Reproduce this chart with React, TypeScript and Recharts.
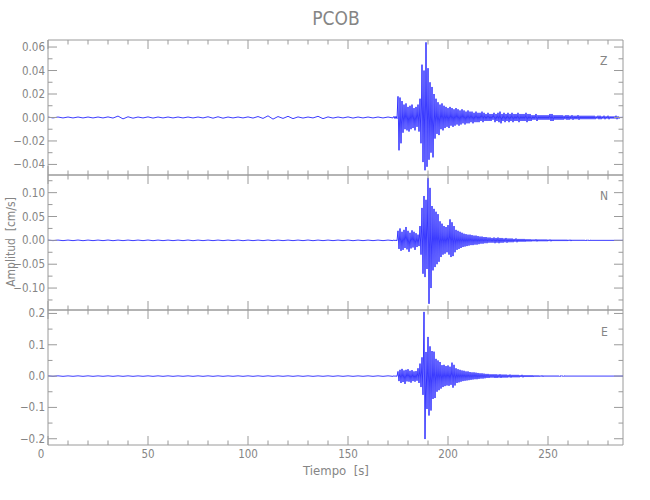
import React from "react";
import { LineChart, Line, XAxis, YAxis, ReferenceLine } from "recharts";

// sample times (s)
const quietTime = [0, 5, 10, 15, 20, 25, 30, 35, 40, 45, 50, 55, 60, 65, 70, 75, 80, 85, 90, 95, 100, 105, 110, 115, 120, 125, 130, 135, 140, 145, 150, 155, 160, 165, 170];
const eventTime = [173, 174, 175, 176, 177, 178, 179, 180, 181, 182, 183, 184, 185, 186, 187, 188, 189, 190, 191, 192, 193, 194, 195, 196, 197, 198, 199, 200, 201, 202, 203, 204, 205, 206, 207, 208, 209, 210, 211, 212, 213, 214, 215, 216, 217, 218, 219, 220, 221, 222];
const tailTime = [223, 224, 225, 226, 227, 228, 229, 230, 231, 232, 233, 234, 235, 236, 237, 238, 239, 240, 241, 242, 243, 244, 245, 246, 247, 248, 249, 250, 251, 252, 253, 254, 255, 256, 257, 258, 259, 260, 261, 262, 263, 264, 265, 266, 267, 268, 269, 270, 271, 272, 273, 274, 275, 276, 277, 278, 279, 280, 281, 282, 283, 284, 285, 286, 287];

// Z component (cm/s)
const zQuiet = [0.0004, 0.0004, 0.0004, 0.0004, 0.0004, 0.0004, 0.0005, 0.0012, 0.0006, 0.0004, 0.0005, 0.0004, 0.0004, 0.0004, 0.0004, 0.0004, 0.0006, 0.0006, 0.0004, 0.0004, 0.0005, 0.0008, 0.0014, 0.0008, 0.001, 0.0005, 0.0004, 0.001, 0.0005, 0.0004, 0.0005, 0.0004, 0.0004, 0.0004, 0.0004];
const zUp = [0.001, 0.001, 0.018, 0.017, 0.014, 0.011, 0.012, 0.009, 0.010, 0.011,
  0.008, 0.009, 0.011, 0.016, 0.045, 0.040, 0.064, 0.042, 0.030, 0.026,
  0.020, 0.016, 0.013, 0.011, 0.012, 0.010, 0.009, 0.008, 0.009, 0.008,
  0.007, 0.008, 0.007, 0.006, 0.007, 0.006, 0.005, 0.006, 0.005, 0.005,
  0.004, 0.005, 0.004, 0.004, 0.005, 0.004, 0.003, 0.004, 0.003, 0.003];
const zLo = [-0.001, -0.001, -0.028, -0.022, -0.013, -0.010, -0.011, -0.012, -0.010, -0.009,
  -0.011, -0.008, -0.012, -0.022, -0.038, -0.045, -0.042, -0.036, -0.030, -0.034,
  -0.018, -0.014, -0.015, -0.010, -0.011, -0.009, -0.008, -0.009, -0.007, -0.008,
  -0.007, -0.006, -0.007, -0.006, -0.005, -0.006, -0.005, -0.005, -0.004, -0.005,
  -0.004, -0.004, -0.004, -0.003, -0.004, -0.003, -0.003, -0.003, -0.003, -0.002];
const zTail = [0.004, 0.003, 0.004, 0.005, 0.003, 0.004, 0.003, 0.004, 0.003, 0.004,
  0.003, 0.003, 0.004, 0.003, 0.003, 0.003, 0.004, 0.003, 0.003, 0.002,
  0.002, 0.003, 0.002, 0.002, 0.002, 0.002, 0.002, 0.002, 0.003, 0.003,
  0.002, 0.002, 0.002, 0.002, 0.002, 0.0015, 0.002, 0.002, 0.0015, 0.002,
  0.0015, 0.0015, 0.002, 0.0015, 0.0015, 0.0015, 0.0015, 0.0015, 0.0015, 0.0015,
  0.0015, 0.001, 0.0015, 0.0015, 0.001, 0.0015, 0.001, 0.0015, 0.001, 0.001,
  0.001, 0.0015, 0.001, 0.0005, 0.0005];

// N component
const nQuiet = [0.0006, 0.0006, 0.0006, 0.0007, 0.0006, 0.0006, 0.0007, 0.0006, 0.0006, 0.0006, 0.0007, 0.0006, 0.0006, 0.0006, 0.0007, 0.0006, 0.0006, 0.0006, 0.0006, 0.0007, 0.0006, 0.0006, 0.0007, 0.0006, 0.0006, 0.0006, 0.0007, 0.0006, 0.0006, 0.0006, 0.0007, 0.0006, 0.0006, 0.0006, 0.0006];
const nUp = [0.001, 0.001, 0.020, 0.025, 0.018, 0.022, 0.028, 0.020, 0.016, 0.021,
  0.018, 0.015, 0.012, 0.030, 0.068, 0.093, 0.085, 0.131, 0.110, 0.072,
  0.066, 0.060, 0.055, 0.040, 0.035, 0.030, 0.028, 0.032, 0.044, 0.038,
  0.030, 0.022, 0.020, 0.018, 0.016, 0.014, 0.013, 0.012, 0.012, 0.011,
  0.010, 0.010, 0.009, 0.008, 0.008, 0.007, 0.007, 0.006, 0.006, 0.005];
const nLo = [-0.001, -0.001, -0.018, -0.022, -0.020, -0.016, -0.019, -0.024, -0.017, -0.015,
  -0.020, -0.014, -0.012, -0.030, -0.070, -0.077, -0.060, -0.133, -0.100, -0.063,
  -0.056, -0.050, -0.045, -0.035, -0.030, -0.028, -0.025, -0.030, -0.035, -0.033,
  -0.025, -0.020, -0.018, -0.016, -0.014, -0.013, -0.012, -0.011, -0.010, -0.010,
  -0.009, -0.009, -0.008, -0.007, -0.007, -0.006, -0.006, -0.005, -0.005, -0.005];
const nTail = [0.006, 0.005, 0.006, 0.005, 0.005, 0.004, 0.005, 0.004, 0.004, 0.004,
  0.003, 0.004, 0.003, 0.003, 0.003, 0.003, 0.0025, 0.0025, 0.0025, 0.002,
  0.002, 0.0025, 0.002, 0.002, 0.002, 0.002, 0.002, 0.0015, 0.002, 0.0015,
  0.0015, 0.0015, 0.0015, 0.0015, 0.0015, 0.0015, 0.0015, 0.0012, 0.0015, 0.0012,
  0.0012, 0.0012, 0.0012, 0.0012, 0.0012, 0.0012, 0.001, 0.0012, 0.001, 0.001,
  0.001, 0.001, 0.001, 0.001, 0.001, 0.001, 0.001, 0.001, 0.001, 0.001,
  0.001, 0.001, 0.001, 0.001, 0.001];

// E component
const eQuiet = [0.0008, 0.0008, 0.0007, 0.0008, 0.0008, 0.0007, 0.0008, 0.0008, 0.0008, 0.0007, 0.0008, 0.0008, 0.0008, 0.0007, 0.0008, 0.0008, 0.0008, 0.0008, 0.0007, 0.0008, 0.0008, 0.0008, 0.0008, 0.0007, 0.0008, 0.0008, 0.0008, 0.0007, 0.0008, 0.0008, 0.0008, 0.0007, 0.0008, 0.0008, 0.0008];
const eUp = [0.001, 0.001, 0.015, 0.020, 0.023, 0.018, 0.020, 0.022, 0.017, 0.019,
  0.015, 0.016, 0.025, 0.040, 0.060, 0.205, 0.077, 0.125, 0.095, 0.080,
  0.078, 0.055, 0.050, 0.045, 0.035, 0.036, 0.032, 0.034, 0.030, 0.043,
  0.036, 0.025, 0.022, 0.020, 0.018, 0.017, 0.015, 0.015, 0.013, 0.012,
  0.012, 0.011, 0.010, 0.009, 0.009, 0.008, 0.007, 0.007, 0.006, 0.006];
const eLo = [-0.001, -0.001, -0.016, -0.022, -0.019, -0.025, -0.017, -0.018, -0.021, -0.016,
  -0.018, -0.015, -0.022, -0.035, -0.060, -0.201, -0.105, -0.126, -0.110, -0.073,
  -0.070, -0.050, -0.045, -0.040, -0.035, -0.032, -0.030, -0.031, -0.028, -0.037,
  -0.030, -0.022, -0.020, -0.018, -0.016, -0.015, -0.014, -0.013, -0.012, -0.011,
  -0.010, -0.010, -0.009, -0.008, -0.008, -0.007, -0.006, -0.006, -0.005, -0.005];
const eTail = [0.006, 0.006, 0.005, 0.006, 0.005, 0.005, 0.005, 0.004, 0.005, 0.004,
  0.004, 0.004, 0.004, 0.003, 0.004, 0.003, 0.003, 0.003, 0.003, 0.003,
  0.0025, 0.0025, 0.0025, 0.002, 0.0025, 0.002, 0.002, 0.002, 0.002, 0.002,
  0.002, 0.002, 0.002, 0.0015, 0.002, 0.0015, 0.0015, 0.0015, 0.0015, 0.0015,
  0.0015, 0.0015, 0.0015, 0.0015, 0.0015, 0.0015, 0.0015, 0.0015, 0.0015, 0.0015,
  0.0015, 0.0015, 0.0015, 0.0015, 0.0015, 0.0015, 0.0015, 0.0015, 0.0015, 0.0015,
  0.0015, 0.0015, 0.0015, 0.0015, 0.0015];

// axes
const xTicks = [0, 10, 20, 30, 40, 50, 60, 70, 80, 90, 100, 110, 120, 130, 140, 150, 160, 170, 180, 190, 200, 210, 220, 230, 240, 250, 260, 270, 280];
const xTickLabels = ["0", "", "", "", "", "50", "", "", "", "", "100", "", "", "", "", "150", "", "", "", "", "200", "", "", "", "", "250", "", "", ""];

const zTicks = [-0.04, -0.03, -0.02, -0.01, 0, 0.01, 0.02, 0.03, 0.04, 0.05, 0.06];
const zTickLabels = ["\u22120.04", "", "\u22120.02", "", "0.00", "", "0.02", "", "0.04", "", "0.06"];
const nTicks = [-0.125, -0.1, -0.075, -0.05, -0.025, 0, 0.025, 0.05, 0.075, 0.1, 0.125];
const nTickLabels = ["", "\u22120.10", "", "\u22120.05", "", "0.00", "", "0.05", "", "0.10", ""];
const eTicks = [-0.2, -0.15, -0.1, -0.05, 0, 0.05, 0.1, 0.15, 0.2];
const eTickLabels = ["\u22120.2", "", "\u22120.1", "", "0.0", "", "0.1", "", "0.2"];

const X_MAX = 287.5;
const PLOT_LEFT = 48;
const PLOT_RIGHT = 623;
const AXIS = "#9a9a9a";
const TEXT = "#858585";
const FONT = "'Liberation Sans Narrow', 'DejaVu Sans Condensed', 'Liberation Sans', sans-serif";
const TRACE = "#0a0aff";

type Pt = { t: number; v: number };

function buildTrace(quiet: number[], up: number[], lo: number[], tail: number[]): Pt[] {
  const pts: Pt[] = [];
  quietTime.forEach((t, i) => {
    pts.push({ t, v: quiet[i] });
    pts.push({ t: t + 2.5, v: -quiet[i] });
  });
  eventTime.forEach((t, i) => {
    pts.push({ t, v: up[i] });
    pts.push({ t: t + 0.5, v: lo[i] });
  });
  tailTime.forEach((t, i) => {
    pts.push({ t, v: tail[i] });
    pts.push({ t: t + 0.5, v: -tail[i] });
  });
  return pts;
}

function findLabel(ticks: number[], labels: string[], value: any) {
  const n = Number(value);
  const idx = ticks.findIndex((v) => Math.abs(v - n) < 1e-9);
  return idx >= 0 ? labels[idx] : "";
}

function XTick(props: any) {
  const { x, y, payload, top, showLabel } = props;
  const label = findLabel(xTicks, xTickLabels, payload.value);
  const len = label ? 9 : 4.5;
  return (
    <g>
      <line x1={x} x2={x} y1={y} y2={y - len} stroke={AXIS} />
      <line x1={x} x2={x} y1={top} y2={top + len} stroke={AXIS} />
      {showLabel && label !== "" && (
        <text x={Number(payload.value) === 0 ? x - 7 : x} y={y + 13} textAnchor="middle" fill={TEXT} fontSize={11.5} fontFamily={FONT}>
          {label}
        </text>
      )}
    </g>
  );
}

function YTick(props: any) {
  const { x, y, payload, ticks, labels } = props;
  const label = findLabel(ticks, labels, payload.value);
  const len = label ? 9 : 4.5;
  return (
    <g>
      <line x1={x} x2={x + len} y1={y} y2={y} stroke={AXIS} />
      <line x1={PLOT_RIGHT - len} x2={PLOT_RIGHT} y1={y} y2={y} stroke={AXIS} />
      {label !== "" && (
        <text x={x - 3} y={y} dy="0.35em" textAnchor="end" fill={TEXT} fontSize={11.5} fontFamily={FONT}>
          {label}
        </text>
      )}
    </g>
  );
}

type PanelProps = {
  top: number;
  bottom: number;
  data: Pt[];
  domain: [number, number];
  ticks: number[];
  labels: string[];
  showXLabels: boolean;
};

function Panel({ top, bottom, data, domain, ticks, labels, showXLabels }: PanelProps) {
  const axisH = 20;
  return (
    <div style={{ position: "absolute", left: 0, top: 0 }}>
      <LineChart
        width={650}
        height={500}
        data={data}
        margin={{ top, right: 650 - PLOT_RIGHT, bottom: 500 - bottom - axisH, left: 0 }}
      >
        <XAxis
          type="number"
          dataKey="t"
          domain={[0, X_MAX]}
          ticks={xTicks}
          interval={0}
          allowDataOverflow
          height={axisH}
          tickSize={0}
          tickMargin={0}
          tickLine={false}
          axisLine={{ stroke: AXIS }}
          tick={(p: any) => <XTick {...p} top={top} showLabel={showXLabels} />}
        />
        <YAxis
          type="number"
          domain={domain}
          ticks={ticks}
          interval={0}
          allowDataOverflow
          width={PLOT_LEFT}
          tickSize={0}
          tickMargin={0}
          tickLine={false}
          axisLine={{ stroke: AXIS }}
          tick={(p: any) => <YTick {...p} ticks={ticks} labels={labels} />}
        />
        <ReferenceLine y={domain[1]} stroke={AXIS} />
        <ReferenceLine x={X_MAX} stroke={AXIS} />
        <Line
          type="linear"
          dataKey="v"
          stroke={TRACE}
          strokeWidth={0.8}
          dot={false}
          isAnimationActive={false}
        />
      </LineChart>
    </div>
  );
}

const textStyle: React.CSSProperties = {
  position: "absolute",
  color: TEXT,
  fontFamily: FONT,
  whiteSpace: "nowrap",
  lineHeight: 1,
};

export default function App() {
  const zData = buildTrace(zQuiet, zUp, zLo, zTail);
  const nData = buildTrace(nQuiet, nUp, nLo, nTail);
  const eData = buildTrace(eQuiet, eUp, eLo, eTail);

  return (
    <div style={{ position: "absolute", left: 0, top: 0, width: 650, height: 500, background: "#fff" }}>
      <Panel top={40} bottom={175} data={zData} domain={[-0.049, 0.066]} ticks={zTicks} labels={zTickLabels} showXLabels={false} />
      <Panel top={175} bottom={310} data={nData} domain={[-0.146, 0.137]} ticks={nTicks} labels={nTickLabels} showXLabels={false} />
      <Panel top={310} bottom={445} data={eData} domain={[-0.22, 0.211]} ticks={eTicks} labels={eTickLabels} showXLabels={true} />

      <div style={{ ...textStyle, left: 236, width: 200, textAlign: "center", top: 9, fontSize: 19 }}>PCOB</div>
      <div style={{ ...textStyle, left: 600, top: 55, fontSize: 12 }}>Z</div>
      <div style={{ ...textStyle, left: 600, top: 190, fontSize: 12 }}>N</div>
      <div style={{ ...textStyle, left: 601, top: 326, fontSize: 12 }}>E</div>
      <div style={{ ...textStyle, left: 236, width: 200, textAlign: "center", top: 464, fontSize: 13 }}>Tiempo&nbsp; [s]</div>
      <div
        style={{
          ...textStyle,
          left: 11 - 60,
          width: 120,
          top: 242 - 6,
          textAlign: "center",
          fontSize: 12,
          transform: "rotate(-90deg)",
        }}
      >
        Amplitud&nbsp; [cm/s]
      </div>
    </div>
  );
}
